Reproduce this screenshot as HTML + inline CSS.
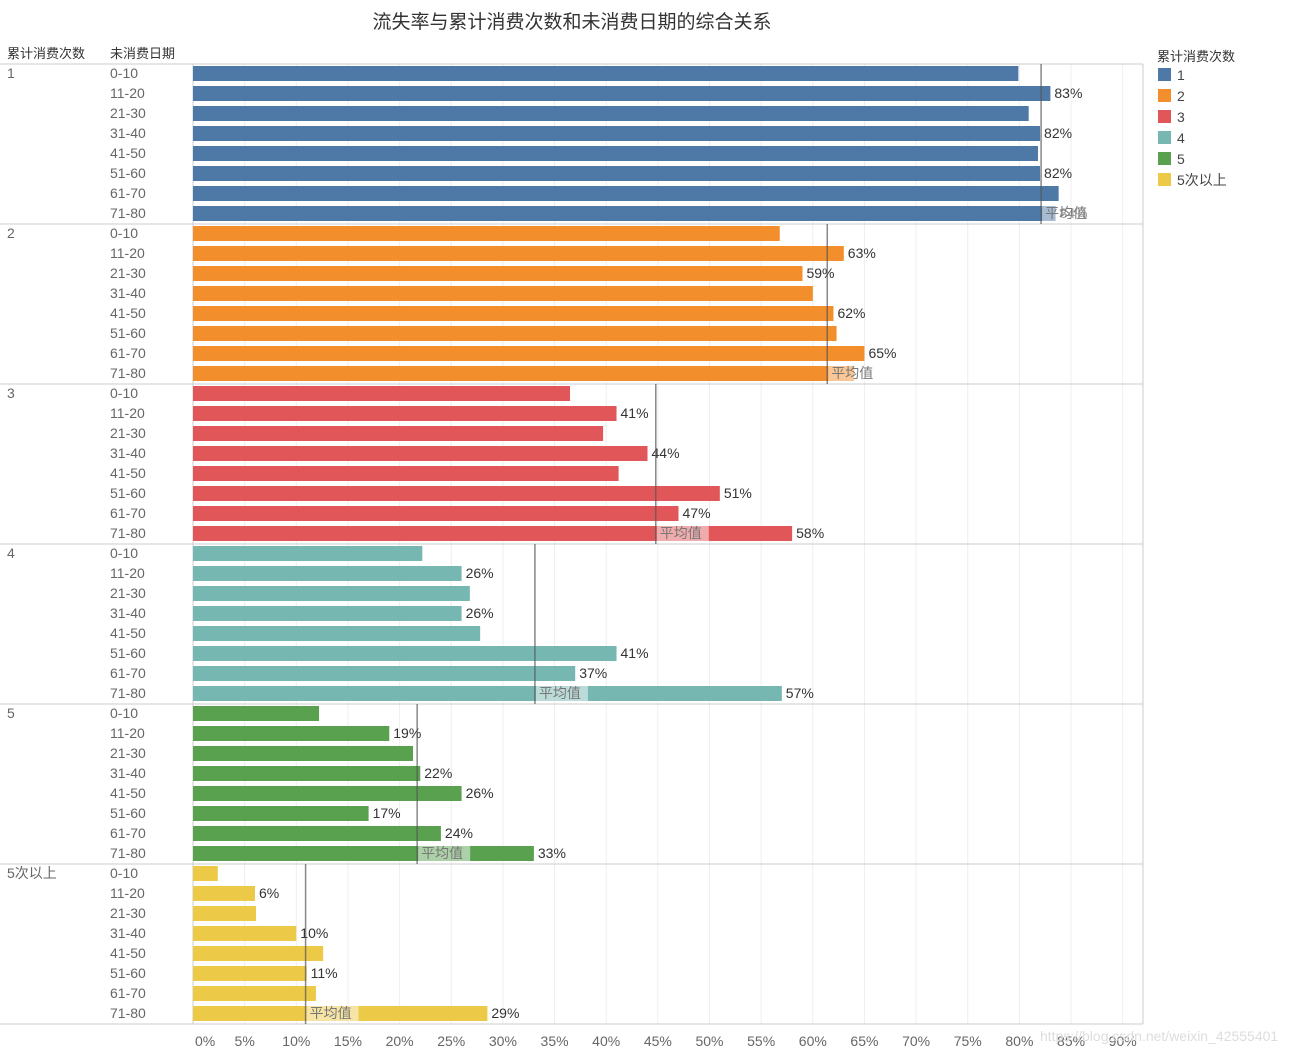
<!DOCTYPE html>
<html><head><meta charset="utf-8">
<style>
body{margin:0;background:#fff;width:1295px;height:1054px;overflow:hidden;font-family:"Liberation Sans","Noto Sans CJK SC",sans-serif;}
svg text{font-family:"Liberation Sans","Noto Sans CJK SC",sans-serif;}
</style></head>
<body>
<svg id="chart" width="1295" height="1054" xmlns="http://www.w3.org/2000/svg">
<text x="572" y="28" font-size="19" fill="#333" text-anchor="middle" font-family="Noto Serif CJK SC, serif">流失率与累计消费次数和未消费日期的综合关系</text>
<text x="7" y="58" font-size="13" fill="#333">累计消费次数</text>
<text x="110" y="58" font-size="13" fill="#333">未消费日期</text>
<g id="grid"></g><g id="bars"></g><g id="axis"></g>
<text x="1157" y="61" font-size="13" fill="#333">累计消费次数</text>
<g id="legend"></g>
<text x="1040" y="1041" font-size="14" fill="#ddd">https://blog.csdn.net/weixin_42555401</text>
</svg>
<script>
const groups = ["1","2","3","4","5","5次以上"];
const periods = ["0-10","11-20","21-30","31-40","41-50","51-60","61-70","71-80"];
const colors = ["#4e79a7","#f28e2b","#e15759","#76b7b2","#59a14f","#edc948"];
const values = [
 [79.9,83,80.9,82,81.8,82,83.8,83.5],
 [56.8,63,59,60,62,62.3,65,64],
 [36.5,41,39.7,44,41.2,51,47,58],
 [22.2,26,26.8,26,27.8,41,37,57],
 [12.2,19,21.3,22,26,17,24,33],
 [2.4,6,6.1,10,12.6,11,11.9,28.5]
];
const averages = [82.1,61.4,44.8,33.1,21.7,10.9];
const showLabel = [
 [0,1,0,1,0,1,0,1],
 [0,1,1,0,1,0,1,0],
 [0,1,0,1,0,1,1,1],
 [0,1,0,1,0,1,1,1],
 [0,1,0,1,1,1,1,1],
 [0,1,0,1,0,1,0,1]
];
const ticks = [0,5,10,15,20,25,30,35,40,45,50,55,60,65,70,75,80,85,90];

const NS="http://www.w3.org/2000/svg";
const X0=193, X1=1143, Y0=64, ROW=20;
const xs=v=>X0+v*10.33;
function mk(tag,attrs,parent,txt){const e=document.createElementNS(NS,tag);for(const k in attrs)e.setAttribute(k,attrs[k]);if(txt!==undefined)e.textContent=txt;parent.appendChild(e);return e;}
const grid=document.getElementById('grid'),bars=document.getElementById('bars'),axis=document.getElementById('axis'),legend=document.getElementById('legend');
const nRows=groups.length*periods.length;
const Yend=Y0+nRows*ROW;
ticks.forEach(t=>{
 const l=mk('line',{x1:xs(t),x2:xs(t),y1:Y0,y2:Yend,stroke:'#eee','stroke-width':1},grid);
 
 
 const tx=mk('text',{x:t===0?195:xs(t),y:1046,'font-size':14,fill:'#666','text-anchor':t===0?'start':'middle'},axis,t+'%');
 
 
});
mk('line',{x1:0,x2:X1,y1:Y0,y2:Y0,stroke:'#ccc'},grid);
mk('line',{x1:X0,x2:X0,y1:Y0,y2:Yend,stroke:'#ccc'},grid);
mk('line',{x1:X1,x2:X1,y1:Y0,y2:Yend,stroke:'#ccc'},grid);
groups.forEach((g,gi)=>{
 const gy=Y0+gi*periods.length*ROW;
 mk('line',{x1:0,x2:X1,y1:gy+periods.length*ROW,y2:gy+periods.length*ROW,stroke:'#ccc'},grid);
 const gl=mk('text',{x:7,y:gy+14,'font-size':14,fill:'#666'},axis,g);
 
 
 periods.forEach((p,pi)=>{
  const ry=gy+pi*ROW;
  const pl=mk('text',{x:110,y:ry+14,'font-size':14,fill:'#666'},axis,p);
  
  
  const v=values[gi][pi];
  const r=mk('rect',{x:X0,y:ry+2,width:xs(v)-X0,height:15,fill:colors[gi]},bars);
  
  
  if(showLabel[gi][pi]){
   const vl=mk('text',{x:xs(v)+4,y:ry+14,'font-size':14,fill:'#333'},bars,Math.round(v)+'%');
   
   
  }
 });
 const ax=xs(averages[gi]);
 const al=mk('line',{x1:ax,x2:ax,y1:gy,y2:gy+periods.length*ROW,stroke:'#555','stroke-width':1.5,'stroke-opacity':0.7},bars);
 
 
 const by=gy+(periods.length-1)*ROW;
 mk('rect',{x:ax+1,y:by+2,width:52,height:15,fill:'#fff','fill-opacity':0.5},bars);
 const at=mk('text',{x:ax+4,y:by+14,'font-size':14,fill:'#777'},bars,'平均值');
 
 
});
groups.forEach((g,gi)=>{
 const y=68+gi*21;
 const s=mk('rect',{x:1158,y:y,width:13,height:13,fill:colors[gi]},legend);
 
 
 const t=mk('text',{x:1177,y:y+12,'font-size':14,fill:'#444'},legend,g);
 
 
});
</script>
</body></html>
